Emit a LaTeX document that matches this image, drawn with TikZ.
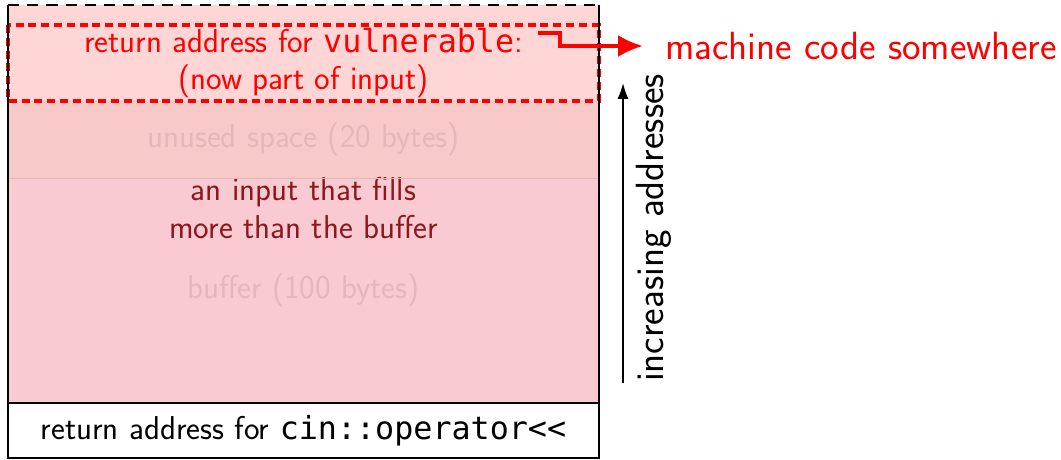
\documentclass[tikz,border=0pt]{standalone}
\usepackage{fontspec}
\setmonofont[Scale=0.96]{DejaVu Sans Mono}
\usetikzlibrary{positioning,arrows.meta}
\definecolor{retfill}{RGB}{255,214,214}
\definecolor{unusedfill}{RGB}{248,201,201}
\definecolor{buffill}{RGB}{249,202,209}
\definecolor{faint}{RGB}{228,184,186}
\definecolor{inputred}{RGB}{140,24,30}
\tikzstyle{slot} = [rectangle, inner sep=0pt, outer sep=0pt, minimum width=14.775cm, align=center, font=\sffamily\fontsize{23.5}{27}\selectfont]
\tikzstyle{frame} = [draw=black, line width=1.4pt]
\tikzstyle{hacked} = [draw=red, line width=2.8pt, dash pattern=on 0.2cm off 0.12cm]
\tikzstyle{redarrow} = [draw=red, line width=2.8pt, -{Latex[length=0.62cm,width=0.55cm]}]
\tikzstyle{addrarrow} = [draw=black, line width=1.3pt, -{Latex[length=0.4cm,width=0.28cm]}]
\tikzstyle{bigtext} = [inner sep=0pt, font=\sffamily\fontsize{28}{32}\selectfont]

\begin{document}
\begin{tikzpicture}
		\useasboundingbox (0,0) rectangle (26.525,11.5);
		% the stack, top to bottom
		\node (gap) [slot, fill=retfill, minimum height=0.5cm, anchor=north] at (7.5875,11.375) {};
		\node (ret) [slot, fill=retfill, minimum height=1.9cm, below=0pt of gap, text=red] {return address for \texttt{vulnerable}:\\(now part of input)};
		\node (unused) [slot, fill=unusedfill, minimum height=1.925cm, below=0pt of ret, text=faint] {unused space (20 bytes)};
		\node (buf) [slot, fill=buffill, minimum height=5.625cm, below=0pt of unused, text=faint] {buffer (100 bytes)};
		\node (cinret) [slot, fill=white, minimum height=1.375cm, below=0pt of buf] {return address for \texttt{cin::operator<<}};
		\node (input) [slot, minimum width=0pt, text=inputred] at ([yshift=-0.75cm]buf.north) {an input that fills\\more than the buffer};

		\draw [faint, line width=0.6pt] (unused.south west) -- (unused.south east);
		\draw [hacked] (ret.north west) rectangle (ret.south east);

		% outline
		\draw [frame] (gap.north west) -- (cinret.south west) -- (cinret.south east) -- (gap.north east);
		\draw [frame, dash pattern=on 0.28cm off 0.2cm] (gap.north west) -- (gap.north east);
		\draw [frame] (cinret.north west) -- (cinret.north east);

		% where the overwritten address points
		\node (code) [bigtext, text=red, anchor=west] at (16.625,10.35) {machine code somewhere};
		\coordinate (hook) at (13.45,10.675);
		\draw [redarrow] (hook) -- ++(0.55,0) |- ([xshift=-0.55cm]code.west);

		% address direction
		\coordinate (lo) at (15.575,1.925);
		\coordinate (hi) at (15.575,9.425);
		\draw [addrarrow] (lo) -- (hi);
		\node (incr) [bigtext, rotate=90] at (16.35,5.8) {increasing addresses};
	\end{tikzpicture}
\end{document}
